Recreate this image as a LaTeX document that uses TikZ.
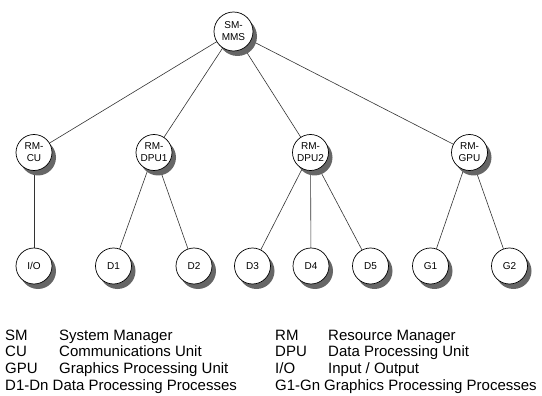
\documentclass[tikz,border=0pt]{standalone}
\usepackage{fontspec}
\setmainfont{Liberation Sans}
\begin{document}
\begin{tikzpicture}[x=1pt,y=-1pt,
  slot/.style={circle, minimum size=36pt, inner sep=0pt},
  bigslot/.style={slot, minimum size=39pt},
  ball/.style={circle, draw=black, line width=0.7pt, fill=white, minimum size=36pt, inner sep=0pt,
    font=\fontsize{10}{12}\selectfont, align=center},
  bigball/.style={ball, minimum size=39pt},
  link/.style={draw=black!80, line width=0.6pt},
  legend/.style={anchor=base west, inner sep=0pt, font=\fontsize{15}{18}\selectfont}]
\useasboundingbox (0,0) rectangle (542,396);

% node places
\node[bigslot] (sm) at (233.5,31.5) {};
\node[slot] (rmcu)   at (34,152.5)    {};
\node[slot] (rmdpu1) at (154,152.5)   {};
\node[slot] (rmdpu2) at (310.5,152.5) {};
\node[slot] (rmgpu)  at (469.5,152.5) {};
\node[slot] (io) at (34,266)    {};
\node[slot] (d1) at (113.5,266) {};
\node[slot] (d2) at (194,266)   {};
\node[slot] (d3) at (252.5,266) {};
\node[slot] (d4) at (311,266)   {};
\node[slot] (d5) at (370.5,266) {};
\node[slot] (g1) at (430.5,266) {};
\node[slot] (g2) at (509.5,266) {};

% connectors (drawn first, so shadows cover them)
\draw[link] (sm) -- (rmcu);
\draw[link] (sm) -- (rmdpu1);
\draw[link] (sm) -- (rmdpu2);
\draw[link] (sm) -- (rmgpu);
\draw[link] (rmcu) -- (io);
\draw[link] (rmdpu1) -- (d1);
\draw[link] (rmdpu1) -- (d2);
\draw[link] (rmdpu2) -- (d3);
\draw[link] (rmdpu2) -- (d4);
\draw[link] (rmdpu2) -- (d5);
\draw[link] (rmgpu) -- (g1);
\draw[link] (rmgpu) -- (g2);

% shadows
\fill[black!60] (237.5,36.5) circle (19.5pt);
\fill[black!60] (38,157.5) circle (18pt);
\fill[black!60] (158,157.5) circle (18pt);
\fill[black!60] (314.5,157.5) circle (18pt);
\fill[black!60] (473.5,157.5) circle (18pt);
\fill[black!60] (38,271) circle (18pt);
\fill[black!60] (117.5,271) circle (18pt);
\fill[black!60] (198,271) circle (18pt);
\fill[black!60] (256.5,271) circle (18pt);
\fill[black!60] (315,271) circle (18pt);
\fill[black!60] (374.5,271) circle (18pt);
\fill[black!60] (434.5,271) circle (18pt);
\fill[black!60] (513.5,271) circle (18pt);

% visible balls
\node[bigball] (vsm) at (sm.center) {SM-\\MMS};
\node[ball] (vrmcu)   at (rmcu.center)   {RM-\\CU};
\node[ball] (vrmdpu1) at (rmdpu1.center) {RM-\\DPU1};
\node[ball] (vrmdpu2) at (rmdpu2.center) {RM-\\DPU2};
\node[ball] (vrmgpu)  at (rmgpu.center)  {RM-\\GPU};
\node[ball] (vio) at (io.center) {I/O};
\node[ball] (vd1) at (d1.center) {D1};
\node[ball] (vd2) at (d2.center) {D2};
\node[ball] (vd3) at (d3.center) {D3};
\node[ball] (vd4) at (d4.center) {D4};
\node[ball] (vd5) at (d5.center) {D5};
\node[ball] (vg1) at (g1.center) {G1};
\node[ball] (vg2) at (g2.center) {G2};

% legend
\node[legend] (l1a) at (5,340)   {SM};
\node[legend] (l1b) at (59,340)  {System Manager};
\node[legend] (l2a) at (5,356.7) {CU};
\node[legend] (l2b) at (59,356.7){Communications Unit};
\node[legend] (l3a) at (5,373.3) {GPU};
\node[legend] (l3b) at (59,373.3){Graphics Processing Unit};
\node[legend] (l4a) at (5,390)   {D1-Dn};
\node[legend] (l4b) at (52.5,390){Data Processing Processes};

\node[legend] (r1a) at (275,340)   {RM};
\node[legend] (r1b) at (328,340)   {Resource Manager};
\node[legend] (r2a) at (275,356.7) {DPU};
\node[legend] (r2b) at (328,356.7) {Data Processing Unit};
\node[legend] (r3a) at (275,373.3) {I/O};
\node[legend] (r3b) at (328,373.3) {Input / Output};
\node[legend] (r4a) at (275,390)   {G1-Gn};
\node[legend] (r4b) at (324,390)   {Graphics Processing Processes};
\end{tikzpicture}
\end{document}
